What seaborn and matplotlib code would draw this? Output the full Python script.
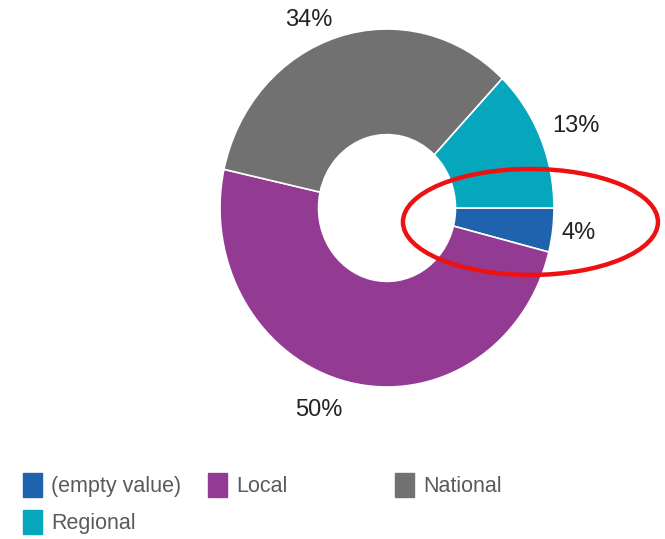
import matplotlib
matplotlib.use("Agg")
import matplotlib.pyplot as plt
import seaborn as sns
from matplotlib.patches import Ellipse, Patch

sns.set_theme(style="white")
plt.rcParams['font.family'] = ['Liberation Sans', 'DejaVu Sans']

categories = ["(empty value)", "Local", "National", "Regional"]
values = [4, 50, 34, 13]
pct_labels = ["4%", "50%", "34%", "13%"]
colors = ["#1f62ae", "#933a93", "#717171", "#06a6bd"]

fig = plt.figure(figsize=(6.65, 5.39), dpi=100)
ax = fig.add_axes([220/665, 1 - 387/539, 334/665, 358/539])

wedges, _ = ax.pie(values, colors=colors, startangle=0, counterclock=False,
                   radius=1.0, wedgeprops=dict(width=0.59, edgecolor="white", linewidth=1.2))
ax.set_aspect("auto")
ax.set_xlim(-1, 1)
ax.set_ylim(-1, 1)
ax.axis("off")

label_pos = {"4%": (1.145, -0.14), "50%": (-0.41, -1.13), "34%": (-0.47, 1.05), "13%": (1.13, 0.46)}
for lab in pct_labels:
    x, y = label_pos[lab]
    ax.text(x, y, lab, ha="center", va="center", fontsize=17, color="#222222")

ax.add_patch(Ellipse((0.859, -0.078), 1.527, 0.592, fill=False, edgecolor="#ee1111",
                     linewidth=3.2, clip_on=False, zorder=5))

legend_pos = [(23, 485), (208, 485), (395, 485), (23, 522)]
for cat, col, (px, py) in zip(categories, colors, legend_pos):
    fig.legend(handles=[Patch(facecolor=col, edgecolor=col)], labels=[cat],
               loc="center left", bbox_to_anchor=(px/665, 1 - py/539),
               frameon=False, fontsize=15.5, handlelength=0.9, handleheight=1.35,
               handletextpad=0.4, labelcolor="#5a5a5a", borderpad=0, borderaxespad=0)

fig.savefig("out.png", dpi=100)
